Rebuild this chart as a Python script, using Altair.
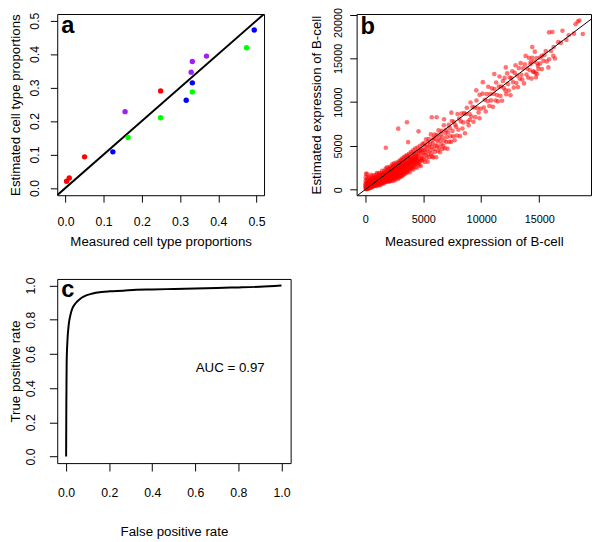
import altair as alt
import pandas as pd

FONT = "Liberation Sans"

# ---------------- Panel a: measured vs estimated cell type proportions ----------------
a_x = [0.003, 0.010, 0.050, 0.249,
       0.124, 0.316, 0.332, 0.494,
       0.164, 0.249, 0.332, 0.474,
       0.156, 0.329, 0.332, 0.369]
a_y = [0.020, 0.030, 0.093, 0.290,
       0.108, 0.262, 0.314, 0.472,
       0.151, 0.210, 0.287, 0.419,
       0.228, 0.346, 0.378, 0.394]
a_group = ["g1", "g1", "g1", "g1",
           "g2", "g2", "g2", "g2",
           "g3", "g3", "g3", "g3",
           "g4", "g4", "g4", "g4"]
a_colors = ["#FF0000", "#0000FF", "#00FF00", "#A020F0"]
a_ticks = [0.0, 0.1, 0.2, 0.3, 0.4, 0.5]
a_diag = [-0.1, 0.7]

# ---------------- Panel b: measured vs estimated B-cell expression ----------------
b_core_x = [20, 60, 90, 130, 170, 200, 240, 280, 310, 350, 390, 420, 460, 500, 530, 570, 610, 650, 680, 720,
            760, 800, 830, 870, 910, 950, 990, 1020, 1060, 1100, 1140, 1180, 1210, 1250, 1290, 1330, 1370, 1410,
            1440, 1480, 1520, 1560, 1600, 1640, 1680, 1710, 1750, 1790, 1830, 1870, 1910, 1950, 1990, 2030, 2070,
            2110, 2150, 2190, 2230, 2270, 2310, 2350, 2390, 2430, 2470, 2510, 2550, 2590, 2630, 2670, 2710, 2760,
            2800, 2840, 2880, 2930, 2970, 3010, 3060, 3100, 3150, 3200, 3240, 3290, 3340, 3390, 3430, 3480, 3530,
            3580, 3630, 3680, 3740, 3790, 3850, 3900, 3960, 4020, 4080, 4140, 4200, 4260, 4320, 4390, 4450, 4520,
            4590, 4660, 4730, 4800, 4880, 4950]
b_core_y = [350, 90, 700, 250, 1100, 480, 150, 820, 420, 1350, 600, 250, 950, 520, 1250, 380, 780, 1550, 600, 1000,
            420, 1350, 700, 1100, 520, 1700, 880, 640, 1300, 800, 1550, 620, 1050, 1850, 900, 700, 1400, 1050,
            1900, 800, 1250, 1650, 950, 2100, 1200, 850, 1550, 1150, 2250, 1000, 1450, 1800, 1100, 2500, 1350,
            1000, 1750, 1300, 2450, 1150, 1650, 2100, 1300, 2750, 1550, 1200, 1950, 1500, 2800, 1350, 1850, 2350,
            1500, 3050, 1750, 1350, 2250, 1700, 3200, 1900, 1500, 2550, 2000, 3400, 1800, 2300, 2900, 2050, 3600,
            1900, 2600, 3100, 2200, 3800, 2000, 2750, 3350, 2400, 4100, 2300, 3000, 3600, 2600, 4300, 2500, 3300,
            3900, 2800, 4500, 2700, 3600, 4200]
b_core2_x = [40, 110, 150, 190, 230, 270, 320, 360, 400, 440, 480, 520, 560, 600, 640, 690, 730, 770, 810, 850,
             890, 930, 970, 1000, 1040, 1080, 1120, 1160, 1200, 1240, 1280, 1320, 1360, 1400, 1430, 1470, 1510,
             1550, 1590, 1630, 1660, 1700, 1740, 1780, 1820, 1860, 1900, 1940, 1980, 2020, 2060, 2100, 2140, 2180,
             2220, 2260, 2300, 2340, 2380, 2420, 2460, 2500, 2540, 2580, 2620, 2660, 2700, 2740, 2780, 2820, 2860,
             2900, 2950, 2990, 3030, 3080, 3120, 3170, 3220, 3270, 3320, 3360, 3410, 3460, 3510, 3560, 3610, 3660,
             3710, 3770, 3820, 3880, 3930, 3990, 4050, 4110, 4170, 4230, 4290, 4360, 4420, 4480, 4550, 4620, 4690,
             4760, 4840, 4910]
b_core2_y = [200, 520, 80, 330, 700, 450, 200, 780, 380, 650, 300, 900, 600, 350, 1000, 750, 450, 850, 600, 1200,
             750, 1000, 600, 1150, 950, 600, 1050, 1300, 850, 1100, 1450, 1000, 800, 1250, 1550, 1100, 900, 1400,
             1750, 1300, 1000, 1500, 1900, 1300, 1650, 1200, 2050, 1500, 1300, 1800, 2200, 1550, 1300, 2000, 1700,
             2350, 1450, 1850, 2600, 1700, 2100, 1500, 2450, 1800, 2200, 1650, 2600, 2000, 1800, 2450, 2150, 2800,
             1900, 2450, 2100, 2750, 2300, 1900, 2900, 2400, 2150, 3100, 2600, 2300, 3200, 2700, 2400, 3400, 2900,
             2500, 3300, 3000, 2600, 3700, 3100, 2800, 3800, 3300, 2900, 3900, 3400, 3000, 4100, 3500, 3200, 4300,
             3800, 3300]
b_core3_x = [10, 30, 50, 80, 100, 140, 180, 210, 260, 300, 340, 380, 430, 470, 510, 550, 590, 620, 660, 700,
             740, 780, 820, 860, 900, 940, 980, 1010, 1050, 1090, 1130, 1170, 1220, 1260, 1300, 1340, 1380, 1420,
             1460, 1500, 1540, 1580, 1620, 1670, 1720, 1760, 1810, 1850, 1890, 1930, 1970, 2010, 2050, 2090, 2130,
             2170, 2210, 2250, 2290, 2330, 2370, 2410, 2450, 2490, 2530, 2570, 2610, 2650, 2690, 2730, 2780, 2830,
             2870, 2910, 2960, 3000, 3050, 3090, 3140, 3190, 3230, 3280, 3330, 3380, 3420, 3470, 3520, 3570, 3620,
             3670, 3720, 3780, 3830, 3890, 3950, 4010, 4070, 4130, 4190, 4250, 4310, 4380, 4440, 4510, 4580, 4650,
             4720, 4790, 4870, 4940]
b_core3_y = [600, 1000, 1400, 1800, 50, 850, 1300, 100, 1000, 650, 1500, 150, 1100, 750, 1700, 250, 1200, 900,
             350, 1300, 950, 1650, 450, 800, 1450, 1200, 400, 1900, 550, 1450, 900, 1900, 500, 1250, 1700, 550,
             1650, 750, 2150, 700, 1800, 1200, 700, 1850, 1250, 2400, 900, 1700, 2550, 950, 2000, 1500, 900, 2300,
             1150, 2650, 1000, 2000, 1200, 2900, 1850, 1000, 2300, 3000, 1350, 2600, 1100, 2450, 3100, 1600, 2800,
             1250, 2550, 3250, 1500, 2850, 3400, 1550, 3050, 3550, 1650, 2700, 3700, 1750, 3250, 3850, 2000, 3000,
             3950, 2150, 3650, 4100, 2350, 3550, 4300, 2500, 3600, 4500, 2700, 4100, 4700, 3100, 3800, 4800, 3000,
             4400, 5000, 3400, 4600, 5200]
b_core4_x = [300, 370, 450, 520, 590, 660, 730, 800, 870, 940, 1010, 1080, 1150, 1220, 1290, 1360, 1430, 1500,
             1570, 1640, 1710, 1780, 1850, 1920, 1990, 2060, 2130, 2200, 2270, 2340, 2410, 2480, 2550, 2620, 2690,
             2760, 2830, 2900, 2970, 3040, 3110, 3180, 3250, 3320, 3390, 3460, 3530, 3600, 3670, 3740, 3810, 3880,
             3950, 4020, 4090, 4160, 4230, 4300, 4370, 4440]
b_core4_y = [260, 330, 310, 450, 420, 560, 600, 580, 730, 700, 820, 860, 900, 1030, 980, 1150, 1100, 1250, 1200,
             1380, 1320, 1480, 1450, 1600, 1550, 1720, 1650, 1850, 1780, 1950, 1900, 2050, 2000, 2150, 2120, 2280,
             2200, 2380, 2320, 2500, 2420, 2620, 2550, 2700, 2650, 2850, 2750, 2950, 2880, 3050, 3000, 3200, 3100,
             3300, 3250, 3450, 3350, 3550, 3500, 3700]
b_mid_x = [5010, 5040, 5070, 5100, 5130, 5160, 5190, 5220, 5250, 5290, 5320, 5350, 5390, 5420, 5450, 5490, 5520,
           5550, 5590, 5620, 5660, 5690, 5730, 5760, 5800, 5830, 5870, 5900, 5940, 5980, 6010, 6050, 6090, 6120,
           6160, 6200, 6240, 6280, 6320, 6360, 6400, 6440, 6480, 6520, 6560, 6600, 6650, 6690, 6730, 6780, 6820,
           6860, 6910, 6950, 7000, 7050, 7100, 7150, 7200, 7250, 7300, 7360, 7410, 7470, 7530, 7590, 7650, 7710,
           7770, 7830, 7900, 7960, 8030, 8100, 8170, 8240, 8310, 8380, 8460, 8530, 8600, 8680, 8760, 8840, 8920,
           9000, 9080, 9160, 9250, 9330, 9420, 9500, 9590, 9680, 9770, 9860, 9950]
b_mid_y = [4560, 3480, 5310, 4135, 3160, 4990, 4510, 3940, 5760, 3600, 4920, 4450, 3180, 5410, 4030, 5770, 4890,
           3720, 5250, 4480, 6310, 4140, 4870, 3800, 5630, 5260, 3690, 5910, 4650, 6280, 4310, 5040, 5780, 3700,
           6240, 4970, 5500, 4440, 6770, 4810, 5940, 4270, 5610, 6340, 5180, 6710, 4650, 5990, 5020, 7360, 5600,
           4730, 6470, 6810, 5450, 6010, 4680, 6540, 7400, 5460, 7030, 6100, 5460, 7840, 6710, 6090, 7760, 5640,
           7410, 7190, 6180, 8650, 6840, 8130, 6110, 7800, 8690, 6980, 7680, 8760, 6450, 8650, 9350, 7750, 7350,
           8650, 9950, 8350, 9460, 7760, 9380, 8280, 10190, 9300, 8810, 10830, 9240]
b_high_x = [10120, 10230, 10310, 10390, 10470, 10560, 10610, 10700, 10780, 10850, 10920, 11010, 11080, 11150,
            11230, 11290, 11370, 11440, 11520, 11580, 11660, 11730, 11800, 11870, 11950, 12020, 12090, 12160,
            12240, 12310, 12380, 12460, 12530, 12600, 12680, 12740, 12810, 12890, 12960, 13030, 13100, 13170,
            13240, 13320, 13400, 13470, 13540, 13610, 13690, 13760, 13830, 13900, 13980, 14050, 14120, 14200,
            14270, 14340, 14410, 14490, 14560, 14620, 14700, 14780, 14850, 14930, 12118, 11130, 10141, 9576,
            9858, 9011]
b_high_y = [10970, 9380, 10260, 8940, 10920, 10110, 11760, 9550, 10930, 10200, 11570, 9460, 10930, 11500,
            10180, 12240, 10820, 10090, 11770, 12930, 10710, 11780, 10150, 12420, 11600, 12770, 11340, 10910,
            13290, 12060, 11330, 12810, 10780, 12750, 13530, 12290, 11660, 13340, 14210, 12180, 13050, 11720,
            13890, 12670, 14450, 13120, 12590, 13860, 12140, 14310, 15280, 13150, 13830, 12800, 15070, 13650,
            14620, 12690, 15060, 13440, 14610, 15770, 13350, 15030, 14400, 13780, 13967, 13218, 12281, 11345,
            8162, 7975]
b_top_x = [18333, 18476, 18137, 18757, 17995, 17543, 17006, 16130, 15848, 17345, 16865, 16640, 16243, 16018,
           15565, 15452, 15226, 15085, 15848, 15650, 15368, 15085, 14888, 16215, 16357, 15792, 15226, 14803,
           14718, 14520, 14238, 14400]
b_top_y = [19213, 19325, 18910, 17787, 17821, 17640, 18160, 18011, 17977, 17112, 16775, 16850, 16290, 15842,
           15842, 15393, 15281, 15093, 14900, 14640, 14716, 14416, 14157, 15281, 14978, 13966, 13776, 13215,
           12843, 13517, 14340, 16300]
b_out_x = [150, 1780, 2850, 3600, 4600, 3700, 5740, 6160, 6800, 7430]
b_out_y = [1800, 4790, 6970, 7700, 6660, 5430, 8270, 8270, 8050, 8800]
b_xticks = [0, 5000, 10000, 15000]
b_yticks = [0, 5000, 10000, 15000, 20000]
b_diag = [-2000, 25000]

# ---------------- Panel c: ROC curve ----------------
c_fpr = [0.0, 0.001, 0.0025, 0.006, 0.012, 0.02, 0.029, 0.043, 0.063, 0.088, 0.119, 0.165, 0.2, 0.264,
         0.325, 0.4, 0.5, 0.6, 0.7, 0.8, 0.9, 1.0]
c_tpr = [0.0, 0.30, 0.55, 0.674, 0.77, 0.828, 0.866, 0.895, 0.92, 0.939, 0.952, 0.962, 0.966, 0.970,
         0.975, 0.977, 0.980, 0.983, 0.986, 0.989, 0.993, 1.0]
c_ticks = [0.0, 0.2, 0.4, 0.6, 0.8, 1.0]
auc_label = "AUC = 0.97"


def x_axis(title, values, fmt, lsize, tick, lpad, tpad):
    return alt.Axis(title=title, values=values, tickCount=len(values), format=fmt, labelFontSize=lsize,
                    tickSize=tick, labelPadding=lpad, titlePadding=tpad, titleFontSize=13.5, grid=False,
                    domain=False, tickColor="black", labelColor="black", titleColor="black", labelFont=FONT,
                    titleFont=FONT, titleFontWeight="normal", labelFlush=False, labelOverlap=False)


def y_axis(title, values, fmt, lsize, tick, lpad, tpad, **extra):
    return alt.Axis(title=title, values=values, tickCount=len(values), format=fmt, labelFontSize=lsize,
                    tickSize=tick, labelPadding=lpad, titlePadding=tpad, titleFontSize=13.5, grid=False,
                    domain=False, tickColor="black", labelColor="black", titleColor="black", labelFont=FONT,
                    titleFont=FONT, titleFontWeight="normal", labelFlush=False, labelOverlap=False,
                    labelAngle=270, labelAlign="center", labelBaseline="bottom", **extra)


def letter(ch, ypx):
    return alt.Chart(pd.DataFrame({"t": [ch]})).mark_text(
        align="left", baseline="alphabetic", fontSize=24, fontWeight="bold", font=FONT, color="black"
    ).encode(x=alt.value(4), y=alt.value(ypx), text="t:N")


# ---- panel a
df_a = pd.DataFrame({"x": a_x, "y": a_y, "g": a_group})
sx_a = alt.Scale(domain=[-0.0215, 0.5197], nice=False, zero=False)
sy_a = alt.Scale(domain=[-0.0216, 0.5196], nice=False, zero=False)
pts_a = alt.Chart(df_a).mark_circle(size=30, opacity=1).encode(
    x=alt.X("x:Q", scale=sx_a, axis=x_axis("Measured cell type proportions", a_ticks, ".1f", 12.5, 7, 14, 7)),
    y=alt.Y("y:Q", scale=sy_a, axis=y_axis("Estimated cell type proportions", a_ticks, ".1f", 12.5, 7, 9, 6)),
    color=alt.Color("g:N", scale=alt.Scale(domain=["g1", "g2", "g3", "g4"], range=a_colors), legend=None),
)
line_a = alt.Chart(pd.DataFrame({"x": a_diag, "y": a_diag})).mark_line(
    color="black", strokeWidth=2, clip=True).encode(x=alt.X("x:Q", scale=sx_a), y=alt.Y("y:Q", scale=sy_a))
panel_a = alt.layer(line_a, pts_a, letter("a", 19)).properties(width=210, height=184)

# ---- panel b
bx = b_core_x + b_core2_x + b_core3_x + b_core4_x + b_mid_x + b_high_x + b_top_x + b_out_x
by = b_core_y + b_core2_y + b_core3_y + b_core4_y + b_mid_y + b_high_y + b_top_y + b_out_y
df_b = pd.DataFrame({"x": bx, "y": by})
sx_b = alt.Scale(domain=[-737, 19466], nice=False, zero=False)
sy_b = alt.Scale(domain=[-640, 20067], nice=False, zero=False)
pts_b = alt.Chart(df_b).mark_circle(size=22, opacity=0.55, color="#FF0000").encode(
    x=alt.X("x:Q", scale=sx_b, axis=x_axis("Measured expression of B-cell", b_xticks, "d", 11, 7, 12, 10)),
    y=alt.Y("y:Q", scale=sy_b, axis=y_axis(
        "Estimated expression of B-cell", b_yticks, "d", 11, 7, 6, 10,
        labelOffset={"condition": {"test": "datum.value >= 20000", "value": 8}, "value": 0})),
)
line_b = alt.Chart(pd.DataFrame({"x": b_diag, "y": b_diag})).mark_line(
    color="black", strokeWidth=1, clip=True).encode(x=alt.X("x:Q", scale=sx_b), y=alt.Y("y:Q", scale=sy_b))
panel_b = alt.layer(pts_b, line_b, letter("b", 20)).properties(width=238, height=184)

# ---- panel c
df_c = pd.DataFrame({"x": c_fpr, "y": c_tpr})
sx_c = alt.Scale(domain=[-0.0412, 1.0425], nice=False, zero=False)
sy_c = alt.Scale(domain=[-0.0385, 1.0385], nice=False, zero=False)
roc = alt.Chart(df_c).mark_line(color="black", strokeWidth=2, interpolate="monotone").encode(
    x=alt.X("x:Q", scale=sx_c, axis=x_axis("False positive rate", c_ticks, ".1f", 12.5, 8, 16, 26)),
    y=alt.Y("y:Q", scale=sy_c, axis=y_axis("True positive rate", c_ticks, ".1f", 12.5, 8, 12, 2)),
    order=alt.Order("x:Q"),
)
auc = alt.Chart(pd.DataFrame({"x": [0.762], "y": [0.52], "t": [auc_label]})).mark_text(
    fontSize=13.5, font=FONT, color="black", align="center", baseline="middle").encode(
    x=alt.X("x:Q", scale=sx_c), y=alt.Y("y:Q", scale=sy_c), text="t:N")
panel_c = alt.layer(roc, auc, letter("c", 18)).properties(width=237, height=187)

chart = alt.concat(
    panel_a, panel_b, panel_c, columns=2,
    spacing={"row": 85, "column": 67}, bounds="flush", align="each",
).properties(
    padding={"left": 0, "top": -6, "right": 0, "bottom": 0}, background="white"
).configure_view(stroke="black", strokeWidth=1)

chart.save("out.html", embed_options={"renderer": "svg", "actions": False})
